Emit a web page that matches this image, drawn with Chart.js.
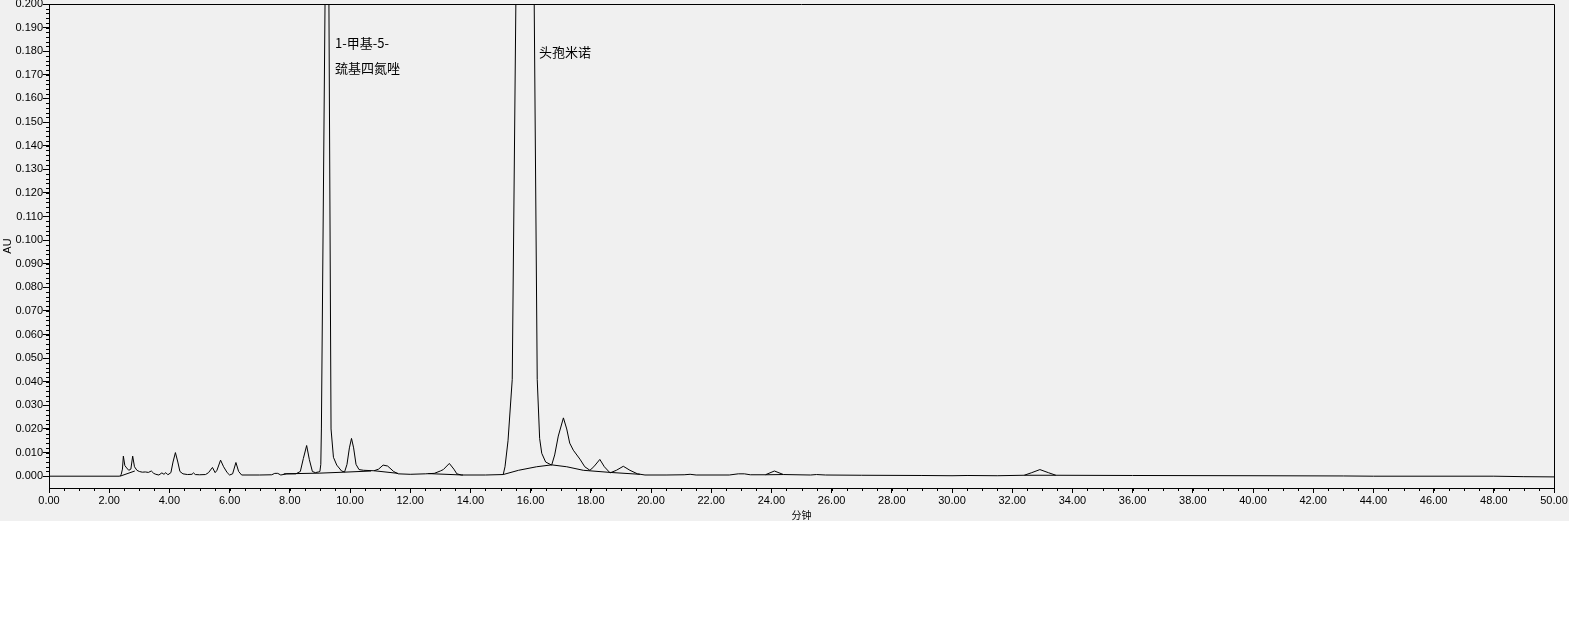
<!DOCTYPE html>
<html>
<head>
<meta charset="utf-8">
<script src="https://cdn.jsdelivr.net/npm/chart.js@4/dist/chart.umd.min.js"></script>
<style>
  html, body { margin: 0; padding: 0; background: #ffffff; }
  #wrap { width: 1569px; height: 521px; background: #f0f0f0; }
</style>
</head>
<body>
<div id="wrap"><canvas id="c" width="1569" height="521"></canvas></div>
<script>
// ---- data (time in minutes, absorbance in AU) ----
const times = [
  0.00, 2.35, 2.40, 2.44, 2.47, 2.52, 2.58, 2.65, 2.72, 2.78, 2.84, 2.92, 3.00, 3.10, 3.20, 3.30,
  3.40, 3.48, 3.55, 3.65, 3.75, 3.82, 3.88, 3.95, 4.05, 4.12, 4.20, 4.28, 4.35, 4.45, 4.60, 4.75,
  4.80, 4.86, 5.00, 5.20, 5.30, 5.43, 5.52, 5.58, 5.70, 5.80, 5.92, 6.00, 6.10, 6.21, 6.30, 6.40,
  7.00, 7.40, 7.50, 7.60, 7.70, 7.90, 8.20, 8.35, 8.45, 8.56, 8.65, 8.75, 8.85, 8.95, 9.00, 9.03,
  9.05, 9.17, 9.24, 9.30, 9.37, 9.45, 9.56, 9.72, 9.82, 9.90, 9.98, 10.05, 10.12, 10.20, 10.30, 10.45,
  10.80, 10.95, 11.10, 11.25, 11.45, 11.60, 12.00, 12.50, 12.80, 13.00, 13.10, 13.30, 13.45, 13.55, 13.70, 14.50,
  15.09, 15.15, 15.25, 15.39, 15.51, 15.58, 15.80, 16.02, 16.12, 16.22, 16.30, 16.37, 16.50, 16.70, 16.80, 16.92,
  17.09, 17.20, 17.30, 17.42, 17.64, 17.80, 17.97, 18.10, 18.30, 18.45, 18.64, 18.85, 19.08, 19.30, 19.55, 19.80,
  20.50, 21.10, 21.30, 21.50, 22.60, 22.90, 23.10, 23.30, 23.80, 24.10, 24.40, 25.30, 25.50, 25.80, 27.00, 29.00,
  30.00, 30.50, 31.50, 32.40, 32.65, 32.92, 33.20, 33.45, 36.00, 40.00, 43.00, 44.00, 48.00, 49.00, 50.00
];
const absorbance = [
  0.0000, 0.0000, 0.0008, 0.0030, 0.0085, 0.0045, 0.0035, 0.0025, 0.0030, 0.0085, 0.0040, 0.0025, 0.0020, 0.0017, 0.0018, 0.0016,
  0.0022, 0.0012, 0.0008, 0.0005, 0.0014, 0.0008, 0.0015, 0.0006, 0.0015, 0.0060, 0.0100, 0.0060, 0.0020, 0.0010, 0.0007, 0.0008,
  0.0014, 0.0007, 0.0006, 0.0007, 0.0015, 0.0037, 0.0015, 0.0025, 0.0068, 0.0040, 0.0015, 0.0005, 0.0010, 0.0058, 0.0020, 0.0005,
  0.0005, 0.0006, 0.0012, 0.0012, 0.0005, 0.0010, 0.0010, 0.0020, 0.0075, 0.0130, 0.0070, 0.0020, 0.0015, 0.0018, 0.0020, 0.0050,
  0.0200, 0.2000, 0.6000, 0.2000, 0.0200, 0.0080, 0.0047, 0.0022, 0.0018, 0.0050, 0.0120, 0.0160, 0.0120, 0.0050, 0.0028, 0.0025,
  0.0023, 0.0030, 0.0047, 0.0043, 0.0020, 0.0010, 0.0008, 0.0010, 0.0012, 0.0022, 0.0028, 0.0054, 0.0030, 0.0010, 0.0005, 0.0005,
  0.0007, 0.0040, 0.0150, 0.0410, 0.2000, 0.6000, 1.2000, 0.6000, 0.2000, 0.0410, 0.0160, 0.0097, 0.0060, 0.0047, 0.0090, 0.0170,
  0.0247, 0.0200, 0.0140, 0.0110, 0.0072, 0.0040, 0.0025, 0.0040, 0.0071, 0.0040, 0.0014, 0.0025, 0.0042, 0.0025, 0.0010, 0.0005,
  0.0005, 0.0006, 0.0008, 0.0005, 0.0005, 0.0010, 0.0010, 0.0006, 0.0006, 0.0022, 0.0007, 0.0005, 0.0007, 0.0005, 0.0004, 0.0003,
  0.0002, 0.0003, 0.0002, 0.0004, 0.0015, 0.0028, 0.0015, 0.0004, 0.0003, 0.0002, 0.0001, 0.0000, 0.0000, -0.0002, -0.0003
];
// integration baselines (null = break between segments)
const baselineTimes = [2.36, 2.85, 2.95, 7.80, 9.00, 9.80, 10.70, 10.75, 10.80, 11.60, 11.65, 12.60, 13.75, 13.80,
  15.09, 15.60, 16.20, 16.70, 17.20, 17.75, 18.64, 19.63, 19.70, 23.80, 24.40, 24.50, 32.40, 33.45];
const baselineValues = [0.0000, 0.0022, null, 0.0010, 0.0013, 0.0017, 0.0022, null, 0.0023, 0.0012, null, 0.0011, 0.0005, null,
  0.0007, 0.0025, 0.0040, 0.0048, 0.0040, 0.0025, 0.0016, 0.0008, null, 0.0006, 0.0007, null, 0.0004, 0.0004];

const xTicks = [0, 2, 4, 6, 8, 10, 12, 14, 16, 18, 20, 22, 24, 26, 28, 30, 32, 34, 36, 38, 40, 42, 44, 46, 48, 50];
const yTicks = [0.000, 0.010, 0.020, 0.030, 0.040, 0.050, 0.060, 0.070, 0.080, 0.090, 0.100,
  0.110, 0.120, 0.130, 0.140, 0.150, 0.160, 0.170, 0.180, 0.190, 0.200];
const xMinorStep = 0.5;
const yMinorStep = 0.002;

const peakLabelTimes = [9.50, 16.28];
const peakLabelValues = [0.1835, 0.1797];
const peakLabelTexts = [['1-甲基-5-', '巯基四氮唑'], ['头孢米诺']];

const xTitle = '分钟';
const yTitle = 'AU';

// ---- build ----
const traceData = times.map((t, i) => ({ x: t, y: absorbance[i] }));
const baseData = baselineTimes.map((t, i) => ({ x: t, y: baselineValues[i] }));

const tickFont = { family: "'Liberation Sans', Arial, sans-serif", size: 11 };

const framePlugin = {
  id: 'frame',
  afterDraw(chart) {
    const { ctx, chartArea: a, scales: { x, y } } = chart;
    ctx.save();
    ctx.strokeStyle = '#000';
    ctx.lineWidth = 1;
    // top and right frame
    ctx.beginPath();
    ctx.moveTo(Math.round(a.left) - 0.5, Math.round(a.top) + 0.5);
    ctx.lineTo(Math.round(a.right) + 0.5, Math.round(a.top) + 0.5);
    ctx.lineTo(Math.round(a.right) + 0.5, Math.round(a.bottom) + 0.5);
    ctx.stroke();
    // minor ticks
    ctx.beginPath();
    for (let v = x.min; v <= x.max + 1e-9; v += xMinorStep) {
      const px = Math.round(x.getPixelForValue(v)) + 0.5;
      ctx.moveTo(px, a.bottom);
      ctx.lineTo(px, a.bottom + 3);
    }
    for (let v = 0; v <= y.max + 1e-9; v += yMinorStep) {
      const py = Math.round(y.getPixelForValue(v)) + 0.5;
      ctx.moveTo(a.left - 3, py);
      ctx.lineTo(a.left, py);
    }
    ctx.stroke();
    // peak labels
    ctx.fillStyle = '#000';
    ctx.font = "13px 'Noto Sans CJK SC', sans-serif";
    ctx.textAlign = 'left';
    ctx.textBaseline = 'middle';
    peakLabelTexts.forEach((lines, i) => {
      const px = x.getPixelForValue(peakLabelTimes[i]);
      const py = y.getPixelForValue(peakLabelValues[i]);
      lines.forEach((s, j) => ctx.fillText(s, px, py + j * 25));
    });
    ctx.restore();
  }
};

new Chart(document.getElementById('c'), {
  type: 'line',
  data: {
    datasets: [
      { data: traceData, borderColor: '#000', borderWidth: 1, pointRadius: 0, tension: 0, fill: false, spanGaps: false },
      { data: baseData, borderColor: '#000', borderWidth: 1, pointRadius: 0, tension: 0, fill: false, spanGaps: false }
    ]
  },
  options: {
    responsive: false,
    animation: false,
    events: [],
    layout: { padding: { top: 4, right: 15, left: 0, bottom: 0 } },
    plugins: { legend: { display: false }, tooltip: { enabled: false } },
    scales: {
      x: {
        type: 'linear', min: 0, max: 50,
        afterBuildTicks: (s) => { s.ticks = xTicks.map(v => ({ value: v })); },
        afterFit: (s) => { s.height = 33; s.paddingLeft = 0; s.paddingRight = 0; },
        ticks: { autoSkip: false, maxRotation: 0, minRotation: 0, padding: 1, color: '#000', font: tickFont,
          callback: (v) => Number(v).toFixed(2) },
        grid: { drawOnChartArea: false, drawTicks: true, tickLength: 5, tickColor: '#000' },
        border: { display: true, color: '#000', width: 1 },
        title: { display: true, text: xTitle, color: '#000', font: { family: "'Noto Sans CJK SC', sans-serif", size: 10 }, padding: { top: 0, bottom: 0 } }
      },
      y: {
        type: 'linear', min: -0.005, max: 0.2,
        afterBuildTicks: (s) => { s.ticks = yTicks.map(v => ({ value: v })); },
        afterFit: (s) => { s.width = 49; s.paddingTop = 0; s.paddingBottom = 0; },
        ticks: { autoSkip: false, padding: 0, color: '#000', font: tickFont,
          callback: (v) => Number(v).toFixed(3) },
        grid: { drawOnChartArea: false, drawTicks: true, tickLength: 6, tickColor: '#000' },
        border: { display: true, color: '#000', width: 1 },
        title: { display: true, text: yTitle, color: '#000', font: { family: "'Liberation Sans', Arial, sans-serif", size: 11 }, padding: { top: 1, bottom: 0 } }
      }
    }
  },
  plugins: [framePlugin]
});
</script>
</body>
</html>
